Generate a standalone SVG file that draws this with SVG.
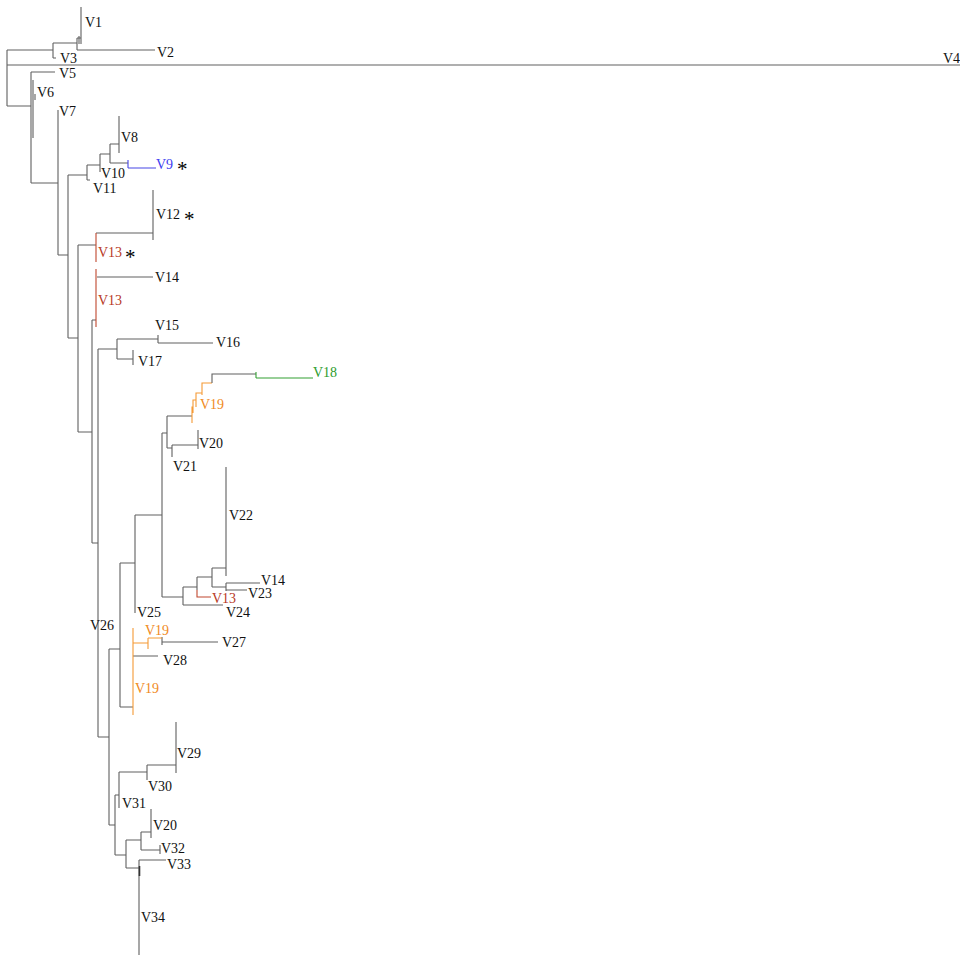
<svg xmlns="http://www.w3.org/2000/svg" width="960" height="962" viewBox="0 0 960 962">
<style>
.e{fill:none;stroke:#606060;stroke-width:1.1}
.r{fill:none;stroke:#c0472e;stroke-width:1.1}
.b{fill:none;stroke:#4646e6;stroke-width:1.1}
.g{fill:none;stroke:#33a033;stroke-width:1.1}
.o{fill:none;stroke:#f59a35;stroke-width:1.1}
text{font-family:"Liberation Serif","Times New Roman",serif;font-size:14px;fill:#111}
.s{font-size:21px;fill:#000}
.tr{fill:#b8391f}
.tb{fill:#3c3cf0}
.tg{fill:#2c9c2c}
.to{fill:#f08a1c}
</style>
<rect width="960" height="962" fill="#fff"/>
<g id="connectors">
<path class="e" d="M7 50V106M7 65H960M7 50H53M53 43V58M53 58H56M53 43H77M77 38V50M77 50H155M77 38H81M81 7V44M79 36V44M7 106H31M31 72V183M31 72H55M33 80V138M35 94V100M31 183H58M58 110V255M58 255H68M68 175V338M68 175H87M87 165V180M87 180H90M87 165H100M100 154V172M100 154H110M110 144V163M110 144H119M119 116V153M110 163H128"/>
<path class="b" d="M128 160V168M128 168H156"/>
<path class="e" d="M68 338H78M78 245V432M78 245H96M96 233H153M153 190V240M97 277H153M92 320H96M92 320V543M78 432H92M92 543H98M98 349V737M98 349H117M117 339V359M117 339H158M158 335V343M158 343H213M117 359H133M133 350V365"/>
<path class="r" d="M96 233V262M96 269V327"/>
<path class="e" d="M98 737H109M109 649V825M109 649H120M120 563V707M120 563H135M135 515V613M135 515H162M162 433V597M162 433H167M167 416V448M167 416H192"/>
<path class="o" d="M192 423V407H193M193 413V400H196M196 407V393H202M202 395V383H212"/>
<path class="e" d="M212 383V374H256"/>
<path class="g" d="M256 372V378M256 378H313"/>
<path class="e" d="M167 448H172M172 445V457M172 445H198M198 430V449M162 597H183M183 587V605M183 605H223M183 587H197M197 577V590M197 577H212M212 568V587M212 568H226M226 467V576M212 587H226M226 583V591M226 583H260M226 590H247"/>
<path class="r" d="M197 590V597H211"/>
<path class="e" d="M120 707H133M162 637V645M162 642H218M133 656H158"/>
<path class="o" d="M133 628V715M133 643H148M148 638V649M148 638H162"/>
<path class="e" d="M109 825H115M115 795V855M115 795H119M119 772V808M119 772H147M147 765V780M147 765H176M176 722V773M115 855H126M126 840V868M126 840H141M141 832V850M141 832H151M151 809V838M141 850H160M160 845V854M126 868H139M139 860V955M139 860H166"/>
<path d="M139.5 866V876" stroke="#333" stroke-width="1.6"/>
</g>
<g id="n-V1"><text x="85" y="27">V1</text></g>
<g id="n-V2"><text x="157" y="57">V2</text></g>
<g id="n-V3"><text x="60" y="63">V3</text></g>
<g id="n-V4"><text x="943" y="63">V4</text></g>
<g id="n-V5"><text x="59" y="78">V5</text></g>
<g id="n-V6"><text x="37" y="97">V6</text></g>
<g id="n-V7"><text x="59" y="116">V7</text></g>
<g id="n-V8"><text x="121" y="142">V8</text></g>
<g id="n-V9"><text x="156" y="169" class="tb">V9</text><text x="177" y="176" class="s">*</text></g>
<g id="n-V10"><text x="101" y="178">V10</text></g>
<g id="n-V11"><text x="93" y="193">V11</text></g>
<g id="n-V12"><text x="156" y="219">V12</text><text x="184" y="226" class="s">*</text></g>
<g id="n-V13a"><text x="98" y="257" class="tr">V13</text><text x="125" y="264" class="s">*</text></g>
<g id="n-V14a"><text x="155" y="282">V14</text></g>
<g id="n-V13b"><text x="98" y="305" class="tr">V13</text></g>
<g id="n-V15"><text x="155" y="330">V15</text></g>
<g id="n-V16"><text x="216" y="347">V16</text></g>
<g id="n-V17"><text x="138" y="366">V17</text></g>
<g id="n-V18"><text x="313" y="377" class="tg">V18</text></g>
<g id="n-V19a"><text x="200" y="409" class="to">V19</text></g>
<g id="n-V20a"><text x="199" y="448">V20</text></g>
<g id="n-V21"><text x="173" y="471">V21</text></g>
<g id="n-V22"><text x="229" y="520">V22</text></g>
<g id="n-V14b"><text x="261" y="585">V14</text></g>
<g id="n-V23"><text x="248" y="598">V23</text></g>
<g id="n-V13c"><text x="212" y="603" class="tr">V13</text></g>
<g id="n-V24"><text x="226" y="617">V24</text></g>
<g id="n-V25"><text x="137" y="617">V25</text></g>
<g id="n-V26"><text x="90" y="630">V26</text></g>
<g id="n-V19b"><text x="145" y="635" class="to">V19</text></g>
<g id="n-V27"><text x="222" y="647">V27</text></g>
<g id="n-V28"><text x="163" y="665">V28</text></g>
<g id="n-V19c"><text x="135" y="693" class="to">V19</text></g>
<g id="n-V29"><text x="177" y="758">V29</text></g>
<g id="n-V30"><text x="148" y="791">V30</text></g>
<g id="n-V31"><text x="122" y="808">V31</text></g>
<g id="n-V20b"><text x="153" y="830">V20</text></g>
<g id="n-V32"><text x="161" y="853">V32</text></g>
<g id="n-V33"><text x="167" y="869">V33</text></g>
<g id="n-V34"><text x="141" y="922">V34</text></g>
</svg>
